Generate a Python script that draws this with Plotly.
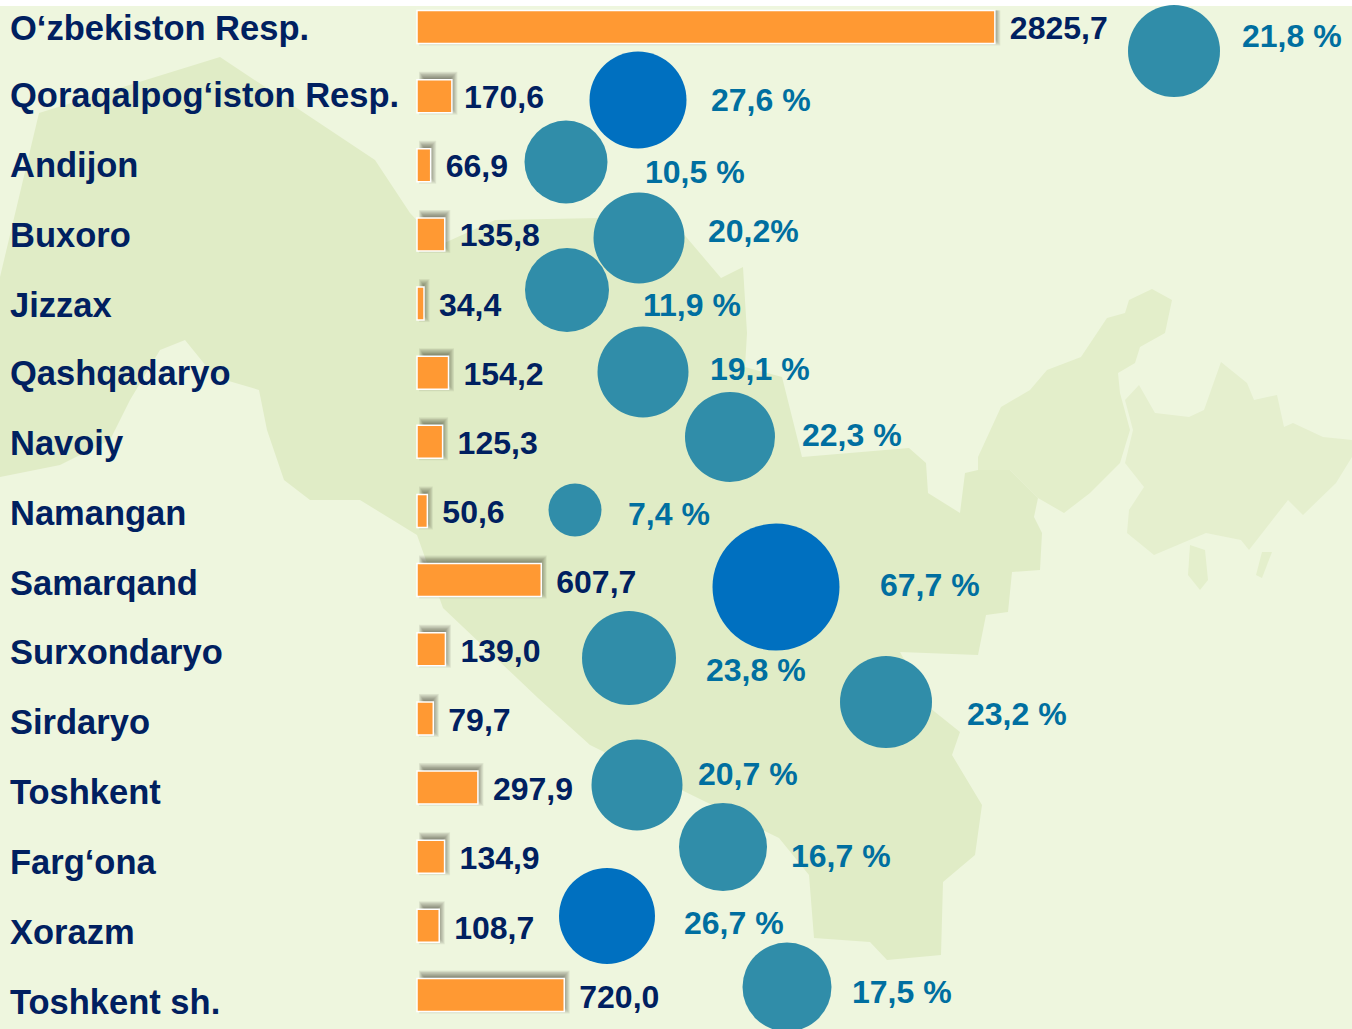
import plotly.graph_objects as go

# ---- data ----
categories = ["O‘zbekiston Resp.", "Qoraqalpog‘iston Resp.", "Andijon", "Buxoro", "Jizzax",
              "Qashqadaryo", "Navoiy", "Namangan", "Samarqand", "Surxondaryo", "Sirdaryo",
              "Toshkent", "Farg‘ona", "Xorazm", "Toshkent sh."]
values = [2825.7, 170.6, 66.9, 135.8, 34.4, 154.2, 125.3, 50.6, 607.7, 139.0, 79.7, 297.9, 134.9, 108.7, 720.0]
value_labels = ["2825,7", "170,6", "66,9", "135,8", "34,4", "154,2", "125,3", "50,6", "607,7", "139,0",
                "79,7", "297,9", "134,9", "108,7", "720,0"]
percent_labels = ["21,8 %", "27,6 %", "10,5 %", "20,2%", "11,9 %", "19,1 %", "22,3 %", "7,4 %", "67,7 %",
                  "23,8 %", "23,2 %", "20,7 %", "16,7 %", "26,7 %", "17,5 %"]

# ---- layout placement (the infographic places its bubbles and labels freely) ----
bubble_x = [1174, 638, 566, 639, 567, 643, 730, 575, 776, 629, 886, 637, 723, 607, 787]
bubble_y = [51, 100, 162, 238, 290, 372, 437, 510, 587, 658, 702, 785, 847, 916, 987]
bubble_d = [92, 97, 83, 91, 84, 91, 90, 53, 127, 94, 92, 91, 88, 96, 89]
bubble_highlight = [0, 1, 0, 0, 0, 0, 0, 0, 1, 0, 0, 0, 0, 1, 0]
percent_x = [1242, 711, 645, 708, 643, 710, 802, 628, 880, 706, 967, 698, 791, 684, 852]
percent_y = [39, 103, 175, 234, 308, 372, 438, 517, 588, 673, 717, 777, 859, 926, 995]
value_y = [31, 100, 169, 238, 308, 377, 446, 515, 585, 654, 723, 792, 861, 931, 1000]
label_y = [31, 98, 168, 238, 308, 376, 446, 516, 586, 655, 725, 795, 865, 935, 1005]
label_x = [10] * 15
value_gap = [15, 12, 15, 15, 15, 15, 15, 15, 15, 15, 15, 15, 15, 15, 15]

map_west = [(220, 57), (39, 113), (0, 277), (0, 477), (60, 465), (110, 440), (130, 400), (160, 350),
            (185, 340), (215, 377), (259, 390), (267, 430), (284, 480), (310, 500), (360, 500), (417, 535),
            (443, 608), (538, 698), (590, 745), (779, 838), (809, 875), (814, 938), (870, 942), (887, 960),
            (941, 955), (943, 882), (975, 855), (982, 805), (952, 755), (960, 732), (930, 708), (900, 652),
            (978, 655), (986, 615), (1008, 612), (1012, 572), (1040, 570), (1042, 533), (1034, 517),
            (1038, 498), (1010, 470), (978, 470), (965, 473), (960, 513), (928, 493), (926, 463), (909, 448),
            (802, 457), (782, 377), (745, 367), (747, 333), (743, 267), (721, 278), (676, 225), (600, 218),
            (495, 220), (440, 245), (410, 213), (375, 160)]
map_mid = [(978, 470), (978, 457), (1001, 407), (1030, 390), (1047, 370), (1081, 357), (1107, 318),
           (1125, 313), (1129, 300), (1152, 289), (1172, 300), (1165, 333), (1140, 347), (1135, 363),
           (1118, 373), (1120, 393), (1130, 430), (1120, 463), (1090, 493), (1064, 513), (1038, 498), (1010, 470)]
map_east = [(1125, 400), (1139, 385), (1155, 413), (1189, 417), (1204, 410), (1221, 362), (1247, 383),
            (1254, 400), (1277, 395), (1284, 427), (1293, 423), (1323, 437), (1352, 440), (1352, 457),
            (1336, 483), (1303, 515), (1288, 500), (1249, 550), (1241, 540), (1206, 533), (1154, 555),
            (1127, 533), (1129, 510), (1144, 487), (1125, 463), (1133, 430)]
map_isles = [[(1190, 545), (1205, 550), (1208, 580), (1200, 590), (1188, 575)],
             [(1262, 552), (1272, 552), (1262, 578), (1256, 575)]]

NAVY = "#002060"
TEAL = "#308DA9"
BLUE = "#0070C0"
PCT = "#006FA0"
ORANGE = "#FF9933"
BG = "#EEF6DE"
FONT = "Liberation Sans"
PX_PER_UNIT = 0.2045
BAR_LEFT = 417
ROW0, ROW_STEP = 27.0, 69.14
W, H = 1352, 1029


def path(points):
    return "M " + " L ".join(f"{x},{y}" for x, y in points) + " Z"


shapes = [dict(type="rect", xref="x2", yref="y2", x0=0, x1=W, y0=6, y1=H, fillcolor=BG, line_width=0, layer="below")]
for poly, col in [(map_west, "#E0ECC6"), (map_mid, "#E3EECA"), (map_east, "#E5EFCE")] + [(p, "#E4EFCC") for p in map_isles]:
    shapes.append(dict(type="path", xref="x2", yref="y2", path=path(poly), fillcolor=col, line_width=0, layer="below"))

# soft bar shadows, built from the bar values: stacked translucent rectangles fake a blur
du = 1 / PX_PER_UNIT
dy = 1 / ROW_STEP
half = 16.5 * dy
for i, v in enumerate(values):
    for blur in range(11):
        grow = 5 - blur
        top = i - half - (4 + grow * 0.8) * dy
        if i == 0:
            top = i - half
        shapes.append(dict(type="rect", xref="x", yref="y",
                           x0=(5 - grow * 0.6) * du, x1=v + (1.5 + grow * 0.8) * du,
                           y0=top, y1=i + half - (3 - grow) * dy,
                           fillcolor="#2A2A1C", opacity=0.07, line_width=0, layer="below"))

fig = go.Figure()
fig.add_trace(go.Bar(x=values, y=list(range(len(values))), orientation="h", width=33 / ROW_STEP,
                     marker=dict(color=ORANGE, line=dict(color="white", width=1.5)),
                     hoverinfo="skip", showlegend=False))
fig.add_trace(go.Scatter(x=bubble_x, y=bubble_y, xaxis="x2", yaxis="y2", mode="markers",
                         marker=dict(size=bubble_d, sizemode="diameter", opacity=1,
                                     color=[BLUE if h else TEAL for h in bubble_highlight], line_width=0),
                         hoverinfo="skip", showlegend=False))
fig.add_trace(go.Scatter(x=label_x, y=label_y, xaxis="x2", yaxis="y2", mode="text", text=categories,
                         textposition="middle right", cliponaxis=False,
                         textfont=dict(family=FONT, size=34.5, color=NAVY, weight="bold"),
                         hoverinfo="skip", showlegend=False))
fig.add_trace(go.Scatter(x=[BAR_LEFT + v * PX_PER_UNIT + g for v, g in zip(values, value_gap)], y=value_y,
                         xaxis="x2", yaxis="y2",
                         mode="text", text=value_labels, textposition="middle right", cliponaxis=False,
                         textfont=dict(family=FONT, size=32, color=NAVY, weight="bold"),
                         hoverinfo="skip", showlegend=False))
fig.add_trace(go.Scatter(x=percent_x, y=percent_y, xaxis="x2", yaxis="y2", mode="text", text=percent_labels,
                         textposition="middle right", cliponaxis=False,
                         textfont=dict(family=FONT, size=32, color=PCT, weight="bold"),
                         hoverinfo="skip", showlegend=False))

axis_off = dict(visible=False, showgrid=False, zeroline=False, fixedrange=True)
fig.update_layout(
    width=W, height=H, margin=dict(l=0, r=0, t=0, b=0), autosize=False,
    paper_bgcolor="white", plot_bgcolor="rgba(0,0,0,0)", showlegend=False, shapes=shapes,
    xaxis=dict(range=[-BAR_LEFT / PX_PER_UNIT, (W - BAR_LEFT) / PX_PER_UNIT], domain=[0, 1], **axis_off),
    yaxis=dict(range=[(H - ROW0) / ROW_STEP, -ROW0 / ROW_STEP], domain=[0, 1], **axis_off),
    xaxis2=dict(range=[0, W], overlaying="x", **axis_off),
    yaxis2=dict(range=[H, 0], overlaying="y", **axis_off),
)
fig.write_html("out.html", config=dict(displayModeBar=False),
               post_script="document.body.style.margin='0';document.documentElement.style.overflow='hidden';")
